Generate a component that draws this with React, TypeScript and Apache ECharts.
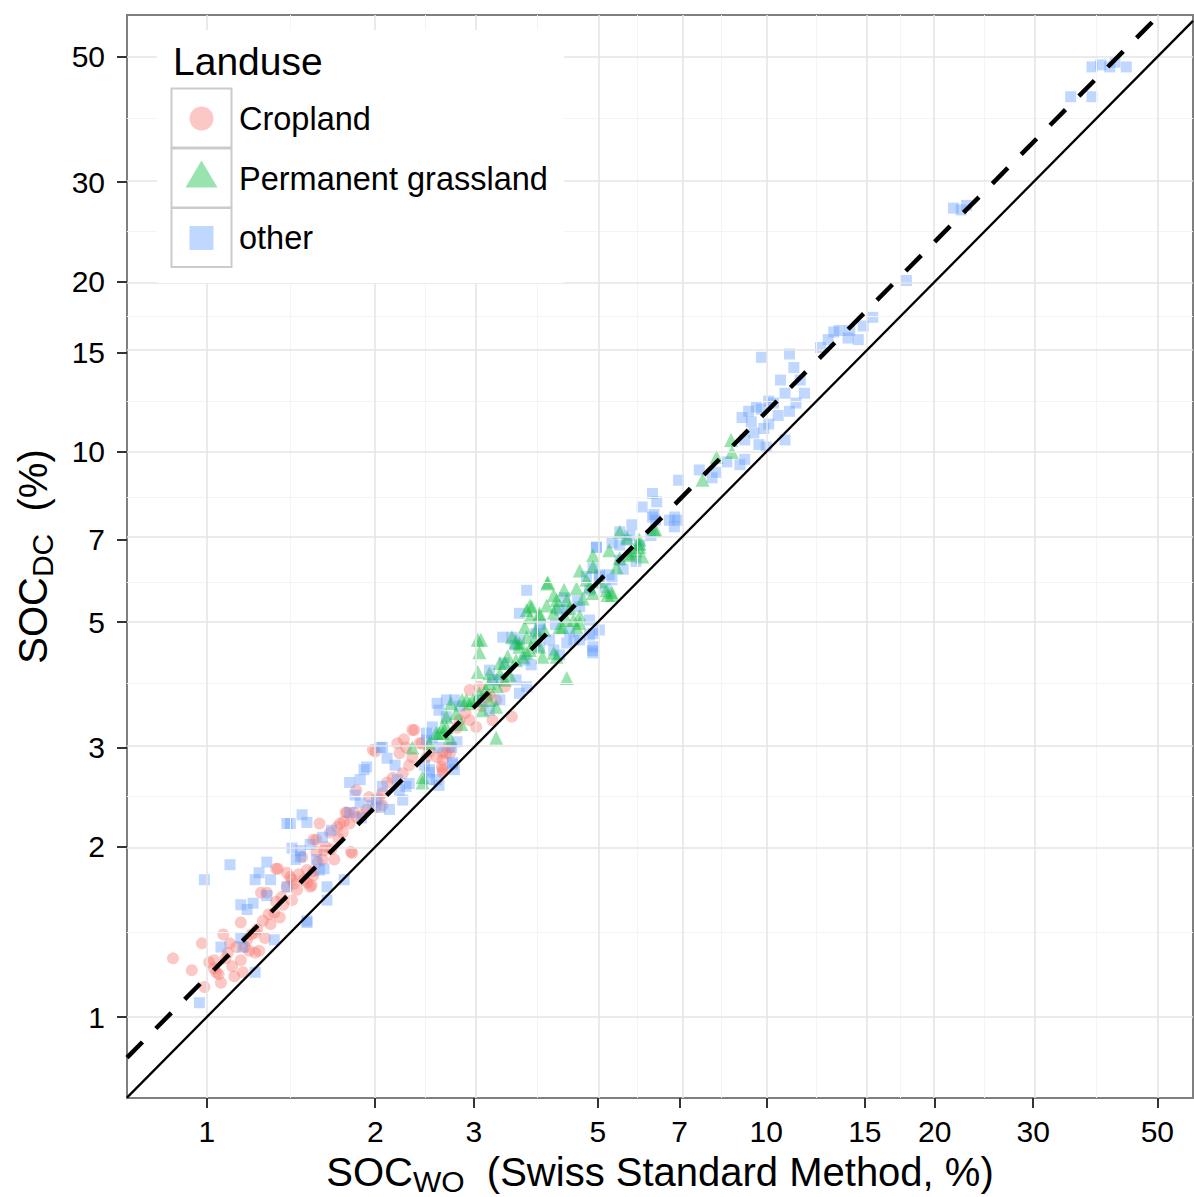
import React, { useEffect, useRef } from "react";
import * as echarts from "echarts";

// ---- data ----
const tickValues = [1, 2, 3, 5, 7, 10, 15, 20, 30, 50];
const xLimits = [0.72, 57.9];
const yLimits = [0.719, 59.3];
// fitted relation SOC_DC = fitFactor * SOC_WO ^ fitSlope (dashed line)
const fitFactor = 1.177;
const fitSlope = 1.0;

const legendTitle = "Landuse";
const categories = ["Cropland", "Permanent grassland", "other"];
const colors = ["#F8766D", "#00BA38", "#619CFF"];

const cropland: number[][] = [
  [0.87, 1.27], [0.94, 1.21], [0.98, 1.35], [0.99, 1.13], [1.03, 1.26], [1.03, 1.22], [1.01, 1.25], [1.04, 1.2],
  [1.07, 1.4], [1.09, 1.3], [1.11, 1.23], [1.15, 1.47], [1.15, 1.26], [1.19, 1.31], [1.22, 1.3], [1.18, 1.37],
  [1.23, 1.43], [1.24, 1.31], [1.22, 1.41], [1.26, 1.48], [1.3, 1.46], [1.32, 1.53], [1.33, 1.6], [1.35, 1.5],
  [1.37, 1.58], [1.25, 1.66], [1.28, 1.66], [1.34, 1.83], [1.41, 1.77], [1.42, 1.61], [1.45, 1.68], [1.39, 1.7],
  [1.33, 1.83], [1.39, 1.8], [1.42, 1.75], [1.48, 1.92], [1.51, 1.82], [1.53, 1.7], [1.55, 1.78], [1.51, 1.73],
  [1.55, 1.81], [1.54, 1.71], [1.57, 1.96], [1.57, 2.06], [1.59, 2.2], [1.61, 1.9], [1.55, 2.06], [1.62, 1.97],
  [1.69, 1.9], [1.66, 2.12], [1.71, 2.17], [1.75, 2.12], [1.78, 2.3], [1.73, 2.2], [1.77, 2.3], [1.82, 1.95],
  [1.81, 1.96], [1.85, 2.52], [1.85, 2.26], [1.8, 2.2], [1.93, 2.33], [1.95, 2.45], [2.0, 2.35], [2.06, 2.49],
  [2.06, 2.37], [1.98, 2.97], [2.19, 3.05], [2.21, 2.93], [2.33, 3.22], [2.27, 3.0], [2.42, 3.05], [2.47, 2.88],
  [2.58, 2.88], [2.64, 2.94], [2.64, 2.85], [2.64, 2.74], [2.64, 2.71], [2.68, 2.93], [2.72, 2.93], [2.35, 3.22],
  [2.4, 3.05], [2.33, 2.88], [2.63, 2.77], [2.72, 3.0], [2.95, 3.79], [3.07, 3.84], [2.95, 3.35], [3.03, 3.26],
  [2.83, 3.35], [3.16, 3.68], [3.29, 3.64], [3.51, 3.4], [3.24, 3.35], [3.41, 3.84], [1.12, 1.18], [1.06, 1.15],
  [1.16, 1.2], [1.27, 1.38], [1.13, 1.33], [1.05, 1.19], [1.08, 1.27], [1.1, 1.35], [1.17, 1.33], [1.2, 1.4],
  [1.29, 1.52], [1.36, 1.63], [1.43, 1.72], [1.46, 1.79], [1.49, 1.75], [1.58, 1.88], [1.63, 2.0], [1.67, 1.98],
  [1.72, 2.07], [1.76, 2.22], [1.83, 2.3], [1.9, 2.28], [2.03, 2.44], [2.1, 2.6], [2.15, 2.65], [2.24, 2.7],
  [2.3, 2.79], [2.5, 2.95], [2.8, 3.25], [2.9, 3.45], [3.1, 3.55], [3.2, 3.72], [2.0, 2.95], [2.25, 3.1],
];

const grassland: number[][] = [
  [3.05, 4.65], [3.07, 4.42], [3.05, 4.08], [3.29, 3.12], [4.4, 3.98], [4.06, 5.85], [4.17, 5.58], [4.64, 6.17],
  [4.9, 6.56], [5.24, 6.7], [5.75, 6.61], [5.93, 6.88], [6.34, 7.28], [5.3, 5.58], [5.18, 5.69], [4.9, 5.63],
  [4.58, 5.74], [4.4, 5.47], [4.22, 5.47], [3.81, 5.32], [3.78, 5.1], [3.93, 5.13], [4.17, 5.2], [4.4, 5.04],
  [4.64, 5.13], [4.58, 4.9], [4.27, 4.9], [3.87, 4.84], [3.73, 4.7], [3.62, 4.52], [3.78, 4.46], [3.98, 4.34],
  [3.57, 4.28], [3.41, 4.23], [3.34, 4.06], [3.48, 4.03], [3.2, 4.06], [3.07, 3.74], [2.99, 3.64], [3.2, 3.64],
  [2.86, 3.64], [2.73, 3.59], [2.68, 3.4], [2.64, 3.26], [2.57, 3.18], [2.5, 3.05], [3.29, 3.54], [3.11, 3.49],
  [2.95, 3.59], [2.79, 3.45], [2.43, 2.66], [2.33, 3.0], [3.73, 5.25], [4.77, 5.94], [4.9, 6.26], [5.47, 6.49],
  [5.84, 6.7], [6.0, 6.53], [4.07, 5.88], [3.78, 5.35], [3.93, 5.18], [3.51, 4.7], [3.62, 4.59], [3.73, 4.41],
  [3.09, 4.65], [4.52, 5.04], [4.64, 4.98], [4.83, 5.77], [5.2, 5.58], [5.29, 5.65], [5.93, 6.79], [5.64, 7.05],
  [4.22, 5.32], [4.32, 4.9], [4.22, 4.34], [4.01, 4.84], [8.65, 10.5], [8.68, 10.0], [8.15, 9.79], [7.69, 8.93],
  [6.3, 7.28], [5.47, 7.22], [5.93, 7.0], [5.7, 6.56], [3.57, 4.61], [3.93, 4.52], [4.17, 4.41], [3.67, 4.34],
  [3.34, 4.23], [3.41, 3.95], [3.2, 3.9], [3.03, 3.64], [2.91, 3.64], [2.68, 3.26], [2.6, 3.18], [2.43, 2.6],
  [2.64, 3.18], [2.72, 3.12], [3.15, 3.8], [3.45, 4.35], [3.7, 4.9], [4.05, 5.35], [4.35, 5.7], [4.7, 5.5],
  [5.05, 5.9], [5.4, 6.25], [3.85, 4.65], [4.45, 5.3], [3.3, 3.85], [2.85, 3.3],
];

const other: number[][] = [
  [0.97, 1.06], [0.99, 1.75], [1.1, 1.86], [1.22, 1.2], [1.51, 1.48], [1.41, 2.2], [1.28, 1.88], [1.21, 1.59],
  [1.47, 1.92], [1.53, 2.02], [1.64, 1.61], [1.62, 1.83], [1.76, 1.75], [1.89, 2.25], [1.97, 2.37], [1.84, 2.47],
  [1.91, 2.74], [2.01, 2.42], [2.12, 2.33], [2.21, 2.52], [2.3, 2.59], [2.17, 2.79], [2.45, 2.79], [2.5, 2.63],
  [2.6, 2.57], [2.77, 2.74], [2.8, 3.07], [2.68, 3.4], [2.58, 3.59], [2.77, 3.64], [2.83, 3.55], [3.07, 3.64],
  [3.2, 3.49], [3.34, 3.64], [3.31, 3.95], [3.4, 4.23], [3.55, 4.55], [3.7, 4.28], [3.62, 4.65], [3.93, 4.84],
  [4.1, 4.65], [4.27, 4.37], [4.53, 4.65], [4.83, 4.74], [4.89, 4.45], [5.03, 4.84], [4.83, 5.04], [4.27, 5.25],
  [4.36, 5.52], [4.83, 5.69], [5.03, 6.06], [5.24, 6.06], [5.47, 6.43], [4.97, 6.78], [5.47, 6.84], [5.7, 7.11],
  [5.94, 6.84], [6.3, 7.75], [6.22, 7.11], [6.71, 7.57], [6.85, 7.37], [6.97, 8.91], [6.37, 8.16], [6.26, 8.44],
  [6.95, 7.57], [7.59, 9.29], [8.0, 9.0], [8.15, 9.2], [8.97, 9.49], [9.15, 9.7], [9.15, 10.5], [9.05, 11.5],
  [9.3, 11.8], [9.8, 11.9], [10.1, 11.2], [10.1, 12.3], [9.8, 14.7], [10.6, 13.4], [11.0, 14.9], [11.2, 14.1],
  [11.5, 13.4], [11.7, 12.7], [10.8, 12.7], [11.0, 11.8], [10.0, 10.2], [9.7, 10.3], [9.5, 10.8], [10.8, 10.5],
  [9.6, 12.0], [10.3, 12.2], [12.9, 15.8], [13.2, 16.3], [13.5, 16.4], [14.1, 16.4], [14.9, 16.7], [15.5, 17.3],
  [14.6, 15.8], [17.8, 20.1], [21.6, 27.0], [22.3, 26.8], [22.8, 27.3], [35.0, 42.5], [38.2, 42.5], [38.2, 48.0],
  [39.6, 48.4], [41.1, 48.0], [44.0, 48.0], [42.0, 48.9],
  [1.3, 1.75], [1.22, 1.75], [1.24, 1.8], [1.15, 1.58], [1.18, 1.55], [1.28, 1.64], [1.39, 1.7], [1.47, 1.97],
  [1.44, 1.9], [1.61, 2.08], [1.64, 1.7], [1.51, 1.47], [1.32, 1.37], [1.15, 1.38], [1.06, 1.33], [1.16, 1.33],
  [1.59, 1.82], [1.57, 1.9],
  [1.39, 2.2], [1.48, 2.28], [1.51, 2.21], [1.42, 1.99], [1.67, 2.14], [1.8, 2.6], [1.88, 2.63], [1.8, 2.3],
  [1.88, 2.39], [1.93, 2.77], [2.04, 3.0], [2.1, 2.87], [2.06, 2.56], [2.19, 2.63], [2.27, 2.56], [2.24, 2.42],
  [2.04, 2.35], [2.5, 2.71], [2.57, 2.63], [2.75, 2.8], [2.47, 3.18], [2.53, 3.12], [2.6, 3.0], [2.74, 3.0],
  [3.73, 5.69], [3.62, 5.18], [3.51, 4.7], [3.87, 4.77], [3.93, 4.52], [4.17, 4.46], [4.4, 4.59], [4.64, 4.65],
  [4.9, 4.77], [4.9, 4.52], [4.9, 4.41], [4.4, 5.25], [4.64, 5.32], [4.77, 6.02], [5.03, 6.02], [5.3, 5.94],
  [4.9, 6.23], [4.97, 6.78], [5.3, 6.9], [5.63, 6.98], [5.47, 7.22], [5.75, 7.43], [6.0, 7.99], [6.26, 7.67],
  [6.86, 7.67], [6.34, 7.57], [2.68, 3.64], [2.6, 3.49], [2.53, 3.26], [2.47, 3.09], [2.06, 3.0], [2.5, 2.74],
  [2.75, 2.82], [3.2, 4.11], [3.24, 3.95], [3.57, 3.95], [3.38, 4.7], [3.73, 3.84], [3.62, 3.74],
  [4.2, 4.95], [4.6, 5.45], [5.15, 5.75], [5.55, 6.2], [5.85, 6.4], [4.45, 4.8], [3.8, 4.2], [3.95, 4.95],
  [9.9, 11.0], [9.4, 11.3], [10.5, 11.6], [11.3, 12.2], [8.5, 9.6], [14.0, 15.9], [12.5, 15.3],
];

// ---- helpers ----
const FONT = '"Liberation Sans", Arial, Helvetica, sans-serif';
const L = (v: number) => Math.log10(v);
const toLog = (pts: number[][]) => pts.map(([x, y]) => [L(x), L(y)]);
const minorValues = tickValues.slice(1).map((v, i) => Math.sqrt(v * tickValues[i]));

export default function App() {
  const ref = useRef<HTMLDivElement>(null);

  useEffect(() => {
    if (!ref.current) return;
    const chart = echarts.init(ref.current, null, { renderer: "svg" });

    const majorLine = { color: "#E5E5E5", width: 1.6, type: "solid" };
    const minorLine = { color: "#F4F4F4", width: 1, type: "solid" };
    const gridLines: any[] = [];
    minorValues.forEach((v) => {
      gridLines.push({ xAxis: L(v), lineStyle: minorLine });
      gridLines.push({ yAxis: L(v), lineStyle: minorLine });
    });
    tickValues.forEach((v) => {
      gridLines.push({ xAxis: L(v), lineStyle: majorLine });
      gridLines.push({ yAxis: L(v), lineStyle: majorLine });
    });

    const tickLogs = tickValues.map(L);
    const fmt = (v: number) => String(Math.round(Math.pow(10, v)));

    const axisCommon = (gap: number, name: string, margin: number) => ({
      type: "value",
      axisLine: { show: false, onZero: false },
      splitLine: { show: false },
      axisTick: {
        show: true,
        customValues: tickLogs,
        length: 10,
        lineStyle: { color: "#333333", width: 2 },
      },
      axisLabel: {
        customValues: tickLogs,
        formatter: fmt,
        fontSize: 30,
        fontFamily: FONT,
        color: "#000000",
        margin,
      },
      name,
      nameLocation: "middle",
      nameGap: gap,
      nameTextStyle: {
        color: "#000000",
        fontFamily: FONT,
        rich: {
          m: { fontSize: 40, lineHeight: 48, verticalAlign: "middle", fontFamily: FONT, color: "#000" },
          s: { fontSize: 30, lineHeight: 30, verticalAlign: "bottom", fontFamily: FONT, color: "#000" },
        },
      },
    });

    const xAxis: any = {
      ...axisCommon(50, "{m|SOC}{s|WO}{m|  (Swiss Standard Method, %)}", 18),
      min: L(xLimits[0]),
      max: L(xLimits[1]),
    };
    const yAxis: any = {
      ...axisCommon(70, "{m|SOC}{s|DC}{m|  (%)}", 22),
      min: L(yLimits[0]),
      max: L(yLimits[1]),
      nameRotate: 90,
    };

    const fit = (x: number) => fitFactor * Math.pow(x, fitSlope);
    const scatter = (name: string, data: number[][], color: string, symbol: string, size: number) => ({
      name,
      type: "scatter",
      data: toLog(data),
      symbol,
      symbolSize: size,
      itemStyle: { color, opacity: 0.4 },
      emphasis: { disabled: true },
      silent: true,
      z: 3,
    });

    // legend drawn as graphic
    const keyX = 171.5;
    const keyW = 60;
    const keyTops = [88.5, 148.5, 208];
    const keyH = 59;
    const cx = keyX + keyW / 2;
    const legendGraphics: any[] = [
      { type: "rect", shape: { x: 157, y: 30, width: 407, height: 253 }, style: { fill: "#ffffff" }, z: 100 },
      {
        type: "text",
        x: 173,
        y: 61,
        style: { text: legendTitle, fontSize: 39, fontFamily: FONT, fill: "#000", align: "left", verticalAlign: "middle" },
        z: 101,
      },
    ];
    keyTops.forEach((t, i) => {
      legendGraphics.push({
        type: "rect",
        shape: { x: keyX, y: t, width: keyW, height: keyH },
        style: { fill: "#ffffff", stroke: "#CBCBCB", lineWidth: 2 },
        z: 101,
      });
      const cy = t + keyH / 2 + 0.5;
      if (i === 0) {
        legendGraphics.push({ type: "circle", shape: { cx, cy, r: 12 }, style: { fill: colors[0], opacity: 0.4 }, z: 102 });
      } else if (i === 1) {
        legendGraphics.push({
          type: "polygon",
          shape: { points: [[cx, cy - 18], [cx + 16, cy + 9], [cx - 16, cy + 9]] },
          style: { fill: colors[1], opacity: 0.4 },
          z: 102,
        });
      } else {
        legendGraphics.push({
          type: "rect",
          shape: { x: cx - 12, y: cy - 12, width: 24, height: 24 },
          style: { fill: colors[2], opacity: 0.4 },
          z: 102,
        });
      }
      legendGraphics.push({
        type: "text",
        x: 239,
        y: cy,
        style: { text: categories[i], fontSize: 32.5, fontFamily: FONT, fill: "#000", align: "left", verticalAlign: "middle" },
        z: 102,
      });
    });

    chart.setOption({
      animation: false,
      backgroundColor: "#ffffff",
      textStyle: { fontFamily: FONT },
      grid: {
        left: 127,
        top: 15,
        right: 1,
        bottom: 99,
        show: true,
        backgroundColor: "#ffffff",
        borderColor: "#7F7F7F",
        borderWidth: 2,
        outerBoundsMode: "none",
        containLabel: false,
      },
      xAxis,
      yAxis,
      series: [
        {
          name: "grid",
          type: "line",
          data: [],
          silent: true,
          z: 1,
          markLine: {
            silent: true,
            symbol: ["none", "none"],
            label: { show: false },
            emphasis: { disabled: true },
            data: gridLines,
          },
        },
        scatter(categories[0], cropland, colors[0], "circle", 12),
        scatter(categories[2], other, colors[2], "rect", 11),
        scatter(categories[1], grassland, colors[1], "triangle", 14),
        {
          name: "1:1",
          type: "line",
          data: [
            [L(xLimits[0]), L(xLimits[0])],
            [L(xLimits[1]), L(xLimits[1])],
          ],
          symbol: "none",
          lineStyle: { color: "#000000", width: 2.3, type: "solid" },
          silent: true,
          clip: true,
          z: 5,
        },
        {
          name: "fit",
          type: "line",
          data: [
            [L(xLimits[0]), L(fit(xLimits[0]))],
            [L(xLimits[1]), L(fit(xLimits[1]))],
          ],
          symbol: "none",
          lineStyle: { color: "#000000", width: 4.5, type: [22, 19] },
          silent: true,
          clip: true,
          z: 6,
        },
      ],
      graphic: legendGraphics,
    });

    return () => chart.dispose();
  }, []);

  return (
    <div
      ref={ref}
      style={{ position: "fixed", left: 0, top: 0, width: 1194, height: 1197, background: "#fff" }}
    />
  );
}
